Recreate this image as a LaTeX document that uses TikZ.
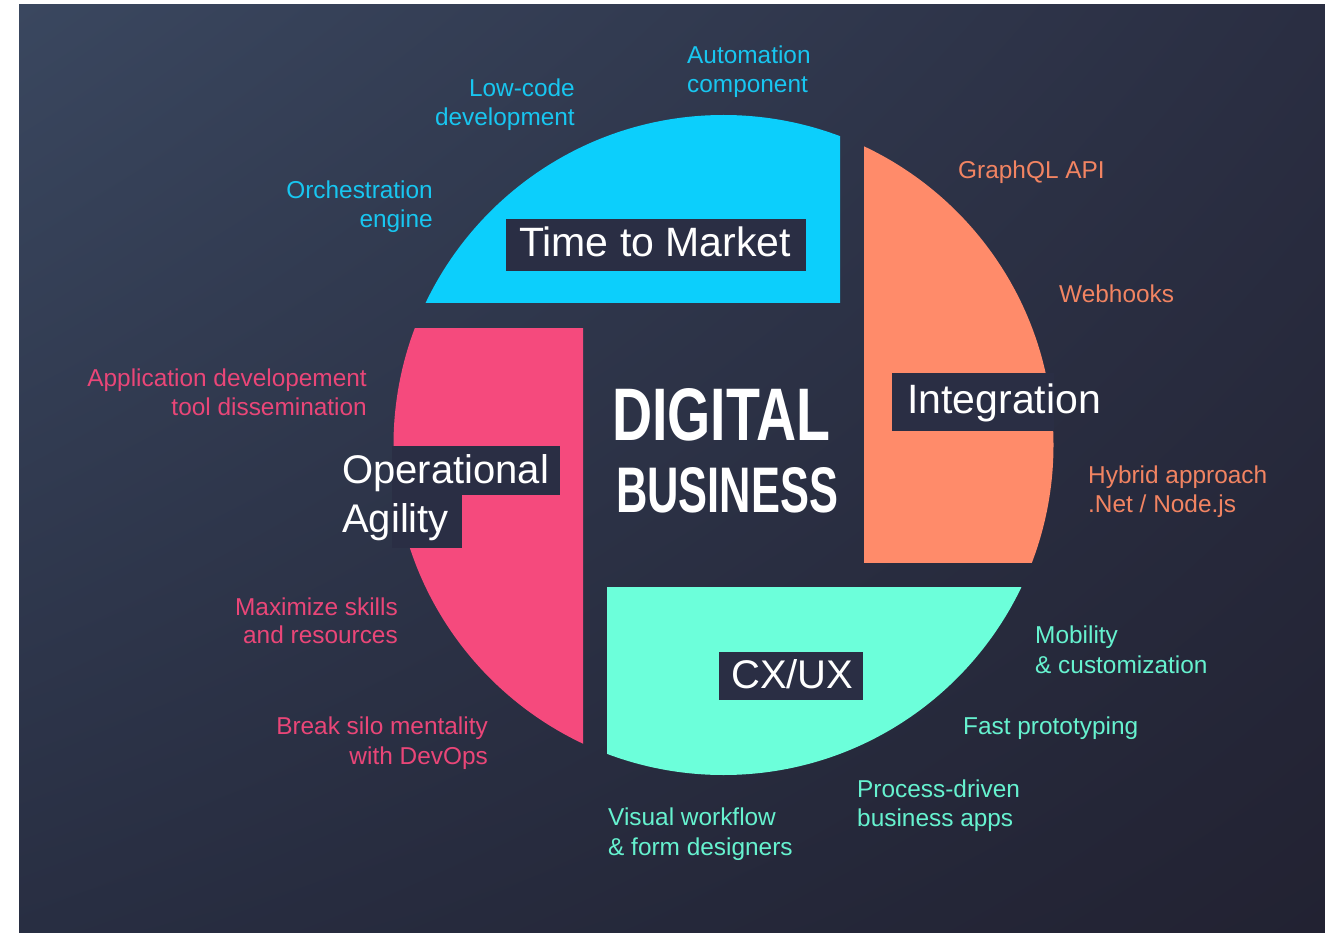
\documentclass[tikz,border=0pt]{standalone}
\usepackage{fontspec}
\setmainfont{Liberation Sans}
\usetikzlibrary{shadings}
\definecolor{bgTL}{RGB}{58,71,95}
\definecolor{bgTR}{RGB}{42,46,66}
\definecolor{bgBL}{RGB}{40,46,66}
\definecolor{bgBR}{RGB}{34,34,50}
\definecolor{qcyan}{RGB}{12,207,252}
\definecolor{qorange}{RGB}{255,139,106}
\definecolor{qpink}{RGB}{245,74,125}
\definecolor{qmint}{RGB}{108,255,218}
\definecolor{tcyan}{RGB}{24,198,240}
\definecolor{torange}{RGB}{242,132,98}
\definecolor{tpink}{RGB}{234,70,120}
\definecolor{tmint}{RGB}{102,242,207}
\definecolor{boxc}{RGB}{42,46,68}
\begin{document}
\begin{tikzpicture}[x=1pt,y=-1pt,
  lbl/.style={inner sep=0pt,font=\fontsize{24.4}{29}\selectfont},
  big/.style={inner sep=0pt,text=white,font=\fontsize{40}{48}\selectfont},
  bigger/.style={big,font=\fontsize{41}{49}\selectfont},
  tagbox/.style={fill=boxc,draw=none}]
\useasboundingbox (0,0) rectangle (1325,933);
\fill[white] (0,0) rectangle (1325,933);
\shade[upper left=bgTL,upper right=bgTR,lower left=bgBL,lower right=bgBR] (19,5) rectangle (1325,933);
% quadrants
\begin{scope}\clip (0,0) rectangle (840,303);
\fill[qcyan] (723.5,445) circle[radius=330pt];\end{scope}
\begin{scope}\clip (864,0) rectangle (1325,562);
\fill[qorange] (723.5,445) circle[radius=330pt];\end{scope}
\begin{scope}\clip (0,328) rectangle (583,933);
\fill[qpink] (723.5,445) circle[radius=330pt];\end{scope}
\begin{scope}\clip (607,587) rectangle (1325,933);
\fill[qmint] (723.5,445) circle[radius=330pt];\end{scope}
% label boxes (only where they cover a coloured part)
\fill[tagbox] (506,219) rectangle (806,271);
\fill[tagbox] (892,373) rectangle (1054,431);
\fill[tagbox] (392,446) rectangle (560,495);
\fill[tagbox] (392,494) rectangle (462,548);
\fill[tagbox] (719,652) rectangle (863,700);
% main labels
\node[bigger,anchor=base west] (ttm) at (519,257) {Time to Market};
\node[bigger,anchor=base west] (integ) at (907,413) {Integration};
\node[big,anchor=base west] (oper) at (342,483) {Operational};
\node[big,anchor=base west] (agil) at (342,532) {Agility};
\node[big,anchor=base west] (cxux) at (731,688) {CX/UX};
% center
\node[inner sep=0pt,text=white,anchor=base west] (dig) at (612,440) {\resizebox{218pt}{52pt}{\bfseries DIGITAL}};
\node[inner sep=0pt,text=white,anchor=base west] (bus) at (616,512) {\resizebox{222pt}{45pt}{\bfseries BUSINESS}};
% cyan labels
\node[lbl,text=tcyan,anchor=base west] (au1) at (687,64) {Automation};
\node[lbl,text=tcyan,anchor=base west] (au2) at (687,93) {component};
\node[lbl,text=tcyan,anchor=base east] (lc1) at (575,97) {Low-code};
\node[lbl,text=tcyan,anchor=base east] (lc2) at (575,126) {development};
\node[lbl,text=tcyan,anchor=base east] (or1) at (433,199) {Orchestration};
\node[lbl,text=tcyan,anchor=base east] (or2) at (433,228) {engine};
% orange labels
\node[lbl,text=torange,anchor=base west] (gq) at (958,179) {GraphQL API};
\node[lbl,text=torange,anchor=base west] (wh) at (1059,303) {Webhooks};
\node[lbl,text=torange,anchor=base west] (hy1) at (1088,483) {Hybrid approach};
\node[lbl,text=torange,anchor=base west] (hy2) at (1088,512) {.Net / Node.js};
% pink labels
\node[lbl,text=tpink,anchor=base east] (ap1) at (367,386) {Application developement};
\node[lbl,text=tpink,anchor=base east] (ap2) at (367,415) {tool dissemination};
\node[lbl,text=tpink,anchor=base east] (mx1) at (398,615) {Maximize skills};
\node[lbl,text=tpink,anchor=base east] (mx2) at (398,643) {and resources};
\node[lbl,text=tpink,anchor=base east] (bs1) at (488,734) {Break silo mentality};
\node[lbl,text=tpink,anchor=base east] (bs2) at (488,764) {with DevOps};
% mint labels
\node[lbl,text=tmint,anchor=base west] (mb1) at (1035,643) {Mobility};
\node[lbl,text=tmint,anchor=base west] (mb2) at (1035,673) {\& customization};
\node[lbl,text=tmint,anchor=base west] (fp) at (963,734) {Fast prototyping};
\node[lbl,text=tmint,anchor=base west] (pd1) at (857,797) {Process-driven};
\node[lbl,text=tmint,anchor=base west] (pd2) at (857,826) {business apps};
\node[lbl,text=tmint,anchor=base west] (vw1) at (608,825) {Visual workflow};
\node[lbl,text=tmint,anchor=base west] (vw2) at (608,855) {\& form designers};
\end{tikzpicture}
\end{document}
